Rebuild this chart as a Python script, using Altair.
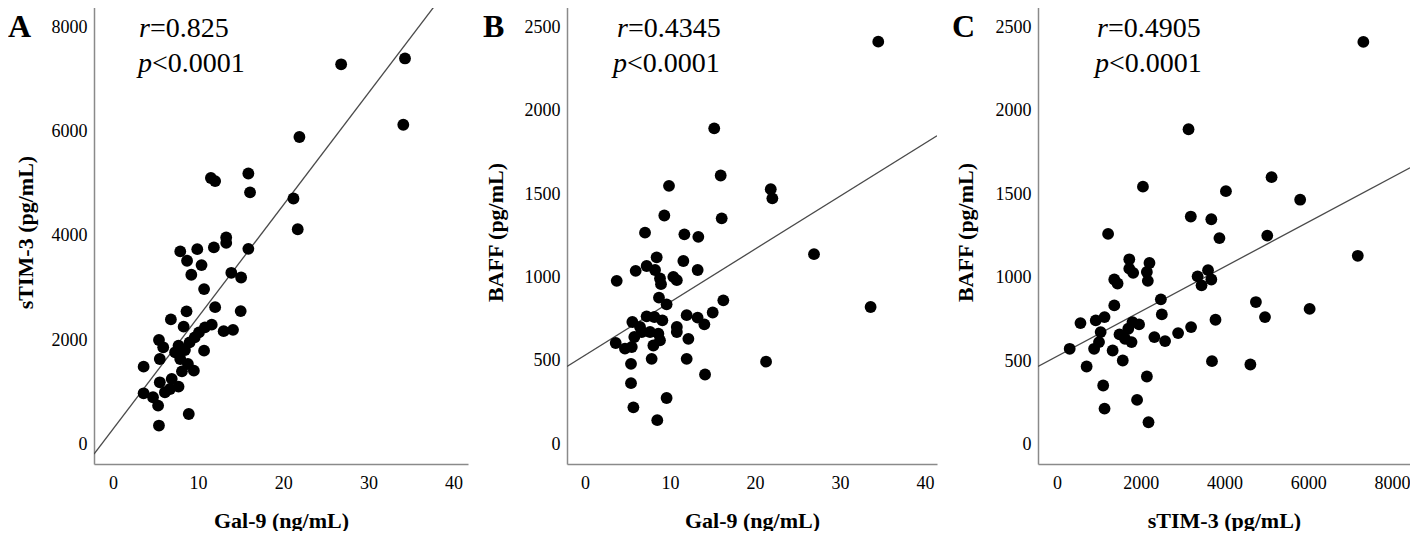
import altair as alt
import pandas as pd

FONT = "Liberation Serif"

# ---------------- Panel A: Gal-9 vs sTIM-3 ----------------
gal9_a = [34.3, 26.8, 34.1, 21.9, 15.9, 16.1, 21.2, 21.7, 11.5, 12.0, 15.9, 13.3, 13.3,
          11.85, 9.9, 7.9, 8.7, 10.4, 9.2, 13.9, 15.05, 10.7, 12.0, 15.0, 8.64, 6.8, 8.3,
          11.6, 13.0, 14.1, 10.8, 10.1, 9.6, 9.0, 5.4, 5.9, 7.7, 8.45, 7.3, 10.7, 5.5, 7.9,
          8.8, 3.6, 9.5, 8.1, 6.9, 5.5, 7.7, 6.7, 6.1, 3.6, 4.7, 5.3, 8.9, 5.4]
stim3_a = [7404, 7292, 6132, 5896, 5196, 4834, 4716, 4126, 5109, 5050, 3750, 3969, 3864,
           3777, 3744, 3700, 3521, 3438, 3253, 3290, 3200, 2977, 2630, 2555, 2550, 2395, 2256,
           2294, 2170, 2195, 2243, 2147, 2051, 1955, 2000, 1860, 1892, 1808, 1764, 1795, 1636, 1636,
           1540, 1489, 1412, 1399, 1253, 1188, 1105, 1060, 997, 977, 901, 741, 580, 358]
fit_a = {"slope": 215.0, "intercept": 290.0}

# ---------------- Panel B: Gal-9 vs BAFF ----------------
gal9_b = [34.5, 15.2, 15.96, 9.88, 21.85, 22.04, 9.33, 16.08, 7.06, 11.69, 13.33, 26.94, 33.6, 21.3, 8.5,
          8.43, 11.57, 5.96, 7.25, 8.24, 13.25, 3.73, 8.82, 8.94, 10.39, 10.8, 8.7, 9.6, 16.27,
          15.02, 11.96, 13.25, 14.04, 7.25, 5.57, 8.16, 9.1, 10.8, 10.8, 6.47, 6.67, 5.8, 7.65,
          8.63, 8.82, 8.04, 12.16, 3.61, 4.7, 5.5, 7.84, 11.96, 5.41, 14.12, 5.41, 9.6, 5.69]
baff_b = [2414, 1894, 1611, 1549, 1529, 1474, 1371, 1354, 1268, 1258, 1243, 1139, 822, 494, 143,
          1120, 1098, 1039, 1068, 1044, 1044, 979, 993, 959, 1003, 983, 878, 838, 862,
          789, 773, 758, 718, 766, 732, 762, 742, 702, 672, 702, 672, 642, 672,
          662, 622, 591, 631, 606, 572, 582, 511, 511, 481, 417, 365, 276, 220]
fit_b = {"slope": 31.8, "intercept": 533.0}

# ---------------- Panel C: sTIM-3 vs BAFF ----------------
stim3_c = [7316, 3141, 5124, 2052, 4034, 5807, 3195, 3685, 1220, 3879, 5021, 7183, 6033,
           1726, 2208, 1726, 1819, 2146, 2169, 1368, 1446, 3358, 3607, 3452, 3685, 2480, 4750,
           1368, 2503, 3785, 4967, 560, 925, 1135, 1803, 1959, 1042, 1702, 3202, 2892, 1493,
           1625, 1780, 2325, 2581, 1003, 886, 303, 1329, 1570, 3701, 4618, 707, 2146, 1103,
           1912, 1135, 2185]
baff_c = [2413, 1890, 1603, 1546, 1519, 1468, 1367, 1351, 1263, 1238, 1253, 1132, 814,
          1111, 1089, 1055, 1030, 1035, 982, 990, 966, 1009, 1046, 955, 990, 871, 855,
          835, 781, 749, 765, 729, 745, 765, 735, 721, 675, 695, 705, 669, 661,
          635, 615, 645, 621, 615, 575, 575, 565, 505, 501, 481, 469, 409, 355,
          269, 217, 135]
fit_c = {"slope": 0.1339, "intercept": 530.5}

stats = {"A": ("0.825", "0.0001"), "B": ("0.4345", "0.0001"), "C": ("0.4905", "0.0001")}


def make_axis(values, title, ext, tpad, orient):
    common = dict(values=values, format="d", grid=False, ticks=False,
                  domainColor="#8a8a8a", domainWidth=1.5,
                  labelFont=FONT, labelFontSize=18, labelColor="black",
                  labelFlush=False, labelOverlap=False,
                  title=title, titleFont=FONT, titleFontSize=22, titleFontWeight="bold",
                  titleColor="black", minExtent=ext, maxExtent=ext, titlePadding=tpad)
    if orient == "x":
        common["labelPadding"] = 10
    else:
        common["labelPadding"] = 7
    return alt.Axis(**common)


def panel(xs, ys, fit, xdom, ydom, xvals, yvals, xtitle, ytitle, w, h,
          letter, letter_x, r_x, p_x, yext):
    df = pd.DataFrame({"x": xs, "y": ys})
    xsc = alt.Scale(domain=xdom, nice=False, zero=False)
    ysc = alt.Scale(domain=ydom, nice=False, zero=False)
    xax = make_axis(xvals, xtitle, 28, 18, "x")
    yax = make_axis(yvals, ytitle, yext, 9, "y")

    pts = alt.Chart(df).mark_circle(size=140, color="black", opacity=1).encode(
        x=alt.X("x:Q", scale=xsc, axis=xax),
        y=alt.Y("y:Q", scale=ysc, axis=yax),
    )
    line_df = pd.DataFrame({"x": xdom,
                            "y": [fit["intercept"] + fit["slope"] * v for v in xdom]})
    line = alt.Chart(line_df).mark_line(color="#4a4a4a", strokeWidth=1.3, clip=True).encode(
        x=alt.X("x:Q", scale=xsc), y=alt.Y("y:Q", scale=ysc))

    r_val, p_val = stats[letter]
    txt = pd.DataFrame({"letter": [letter], "r": ["r"], "rv": ["=" + r_val],
                        "p": ["p"], "pv": ["<" + p_val]})
    base = alt.Chart(txt)
    t_letter = base.mark_text(font=FONT, fontSize=32, fontWeight="bold", align="left",
                              baseline="alphabetic", color="black").encode(
        text="letter:N", x=alt.value(letter_x), y=alt.value(37))
    t_r = base.mark_text(font=FONT, fontSize=28, fontStyle="italic", align="left",
                         baseline="alphabetic", color="black").encode(
        text="r:N", x=alt.value(r_x), y=alt.value(37))
    t_rv = base.mark_text(font=FONT, fontSize=28, align="left",
                          baseline="alphabetic", color="black").encode(
        text="rv:N", x=alt.value(r_x + 11), y=alt.value(37))
    t_p = base.mark_text(font=FONT, fontSize=28, fontStyle="italic", align="left",
                         baseline="alphabetic", color="black").encode(
        text="p:N", x=alt.value(p_x), y=alt.value(72))
    t_pv = base.mark_text(font=FONT, fontSize=28, align="left",
                          baseline="alphabetic", color="black").encode(
        text="pv:N", x=alt.value(p_x + 14), y=alt.value(72))

    return alt.layer(line, pts, t_letter, t_r, t_rv, t_p, t_pv).properties(width=w, height=h)


H = 464
chart_a = panel(gal9_a, stim3_a, fit_a, [-2.23, 41.70], [-380, 8526],
                [0, 10, 20, 30, 40], [0, 2000, 4000, 6000, 8000],
                "Gal-9 (ng/mL)", "sTIM-3 (pg/mL)", 374, H, "A", -86, 45, 44, 48)
chart_b = panel(gal9_b, baff_b, fit_b, [-2.12, 41.41], [-120, 2664],
                [0, 10, 20, 30, 40], [0, 500, 1000, 1500, 2000, 2500],
                "Gal-9 (ng/mL)", "BAFF (pg/mL)", 370, H, "B", -84, 50, 46, 51)
chart_c = panel(stim3_c, baff_c, fit_c, [-454, 8430], [-115, 2664],
                [0, 2000, 4000, 6000, 8000], [0, 500, 1000, 1500, 2000, 2500],
                "sTIM-3 (pg/mL)", "BAFF (pg/mL)", 372, H, "C", -86, 59, 57, 52)

chart = alt.hconcat(chart_a, chart_b, chart_c, spacing=15).properties(
    padding={"left": 0, "top": -8, "right": 0, "bottom": 0},
    background="white",
).configure_view(stroke=None)

chart.save("out.html", embed_options={"renderer": "svg", "actions": False})
